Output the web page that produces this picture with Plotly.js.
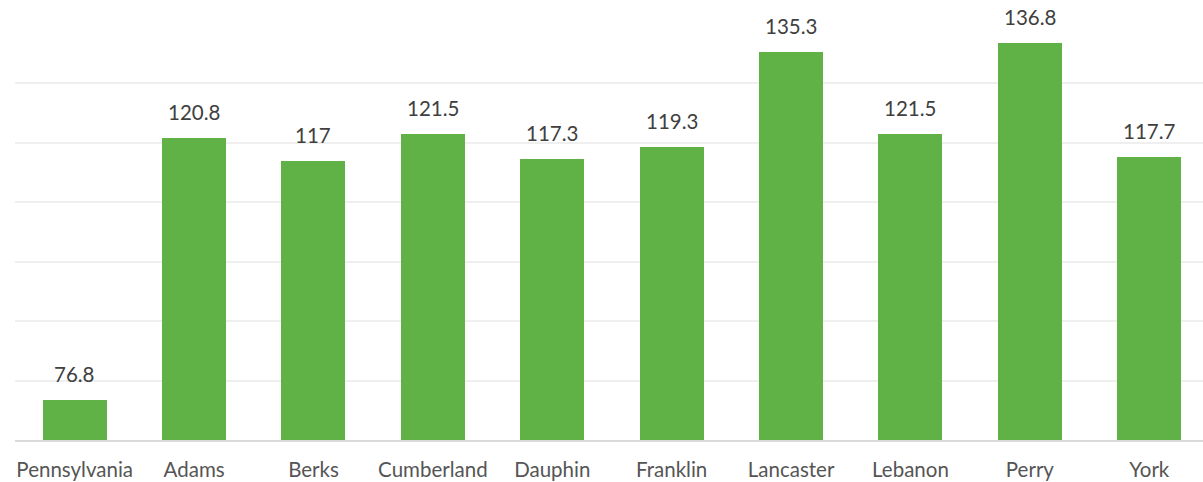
<!DOCTYPE html>
<html>
<head>
<meta charset="utf-8">
<script src="https://cdn.plot.ly/plotly-3.0.1.min.js"></script>
<style>html,body{margin:0;padding:0;background:#fff;}#chart{width:1203px;height:482px;}</style>
</head>
<body>
<div id="chart"></div>
<script>
var categories = ["Pennsylvania", "Adams", "Berks", "Cumberland", "Dauphin", "Franklin", "Lancaster", "Lebanon", "Perry", "York"];
var values = [76.8, 120.8, 117, 121.5, 117.3, 119.3, 135.3, 121.5, 136.8, 117.7];
var valueLabels = ["76.8", "120.8", "117", "121.5", "117.3", "119.3", "135.3", "121.5", "136.8", "117.7"];
var axisBase = 70;

var trace = {
  type: "bar",
  x: categories.map(function(c, i){ return i; }),
  y: values.map(function(v){ return v - axisBase; }),
  base: axisBase,
  marker: {color: "#60b247"},
  width: 0.536,
  hoverinfo: "none",
  cliponaxis: false
};

var annotations = categories.map(function(c, i){
  return {
    x: i, y: values[i], xref: "x", yref: "y",
    text: valueLabels[i], showarrow: false,
    yanchor: "bottom", yshift: 12,
    font: {family: "Lato, 'Noto Sans', sans-serif", size: 20.5, color: "#404040"}
  };
});

var layout = {
  width: 1203, height: 482,
  margin: {l: 15, r: 0, t: 24, b: 42},
  paper_bgcolor: "#fff", plot_bgcolor: "#fff",
  showlegend: false,
  bargap: 0,
  xaxis: {
    range: [-0.5, 9.45],
    tickmode: "array",
    tickvals: categories.map(function(c, i){ return i; }),
    ticktext: categories,
    ticks: "outside", ticklen: 10, tickcolor: "rgba(0,0,0,0)",
    showgrid: false, zeroline: false,
    showline: true, linecolor: "#d9d9d9", linewidth: 2,
    tickfont: {family: "Lato, 'Noto Sans', sans-serif", size: 20.5, color: "#555555"},
    fixedrange: true
  },
  yaxis: {
    range: [axisBase, 140],
    dtick: 10, tick0: axisBase,
    showticklabels: false,
    showgrid: true, gridcolor: "#efefef", gridwidth: 2,
    zeroline: false, showline: false,
    fixedrange: true
  },
  annotations: annotations
};

Plotly.newPlot("chart", [trace], layout, {displayModeBar: false, staticPlot: true});
</script>
</body>
</html>
